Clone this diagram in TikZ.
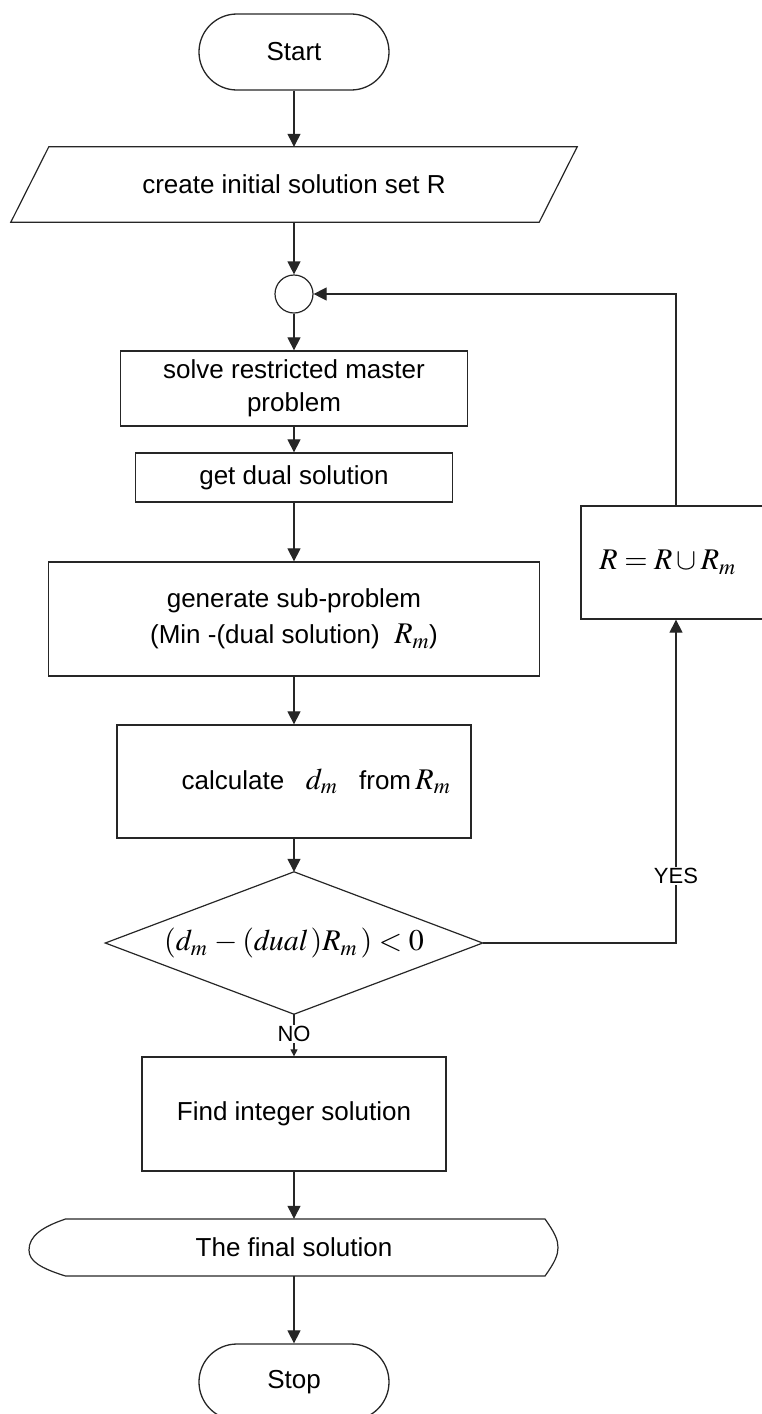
\documentclass[tikz,border=0pt]{standalone}
\usepackage{mathptmx}
\usepackage[no-math]{fontspec}
\setmainfont{Liberation Sans}
\usetikzlibrary{arrows.meta,calc}
\newcommand\fs{\fontsize{26}{33}\selectfont}
\newcommand\fsg{\fontsize{26}{36}\selectfont}
\newcommand\fsl{\fontsize{22}{26}\selectfont}
\newcommand\fm{\fontsize{30}{36}\selectfont}
\tikzset{
  ln/.style={line width=1.2pt, draw=black!85},
  arr/.style={ln, -{Triangle[length=13pt,width=13pt]}},
  sarr/.style={ln, -{Triangle[length=7pt,width=7pt]}},
  box/.style={draw=black!85, line width=1.3pt, inner sep=0pt, align=center, font=\fs},
  ghost/.style={inner sep=0pt, align=center, font=\fs},
  term/.style={box, rounded corners=37.9pt, minimum width=190pt, minimum height=76pt},
  lbl/.style={fill=white, inner sep=1.5pt, font=\fsl},
}
\begin{document}
\begin{tikzpicture}[x=1pt,y=-1pt]
\useasboundingbox (0,0) rectangle (762,1414);
\clip (0,0) rectangle (762,1414);

% nodes
\node[term] (start) at (294,52) {Start};
\node[ghost, minimum width=566pt, minimum height=75pt] (init) at (294,184.5) {create initial solution set R};
\draw[ln] ([xshift=38pt]init.north west) -- (init.north east) -- ([xshift=-38pt]init.south east) -- (init.south west) -- cycle;
\node[draw=black!85, line width=1.2pt, circle, minimum size=38pt, inner sep=0pt] (junc) at (294,294) {};
\node[box, minimum width=347pt, minimum height=75pt] (solve) at (294,388.5) {solve restricted master\\problem};
\node[box, minimum width=317pt, minimum height=49pt] (dual) at (294,477.5) {get dual solution};
\node[box, font=\fsg, minimum width=491pt, minimum height=114pt] (gen) at (294,619) {generate sub-problem\\(Min -(dual solution)\ \ {\fm$R_m$})};
\node[box, minimum width=354pt, minimum height=113pt] (calc) at (294,781.5) {\hspace*{44pt}calculate\ \ \ {\fm$d_m$}\ \ \ from\,{\fm$R_m$}};
\node[ghost, minimum width=377pt, minimum height=142pt] (dec) at (294,943) {\fm$(d_m\,-(\mathit{dual}\,)R_m\,)<0$};
\draw[ln] (dec.north) -- (dec.east) -- (dec.south) -- (dec.west) -- cycle;
\node[box, minimum width=304pt, minimum height=114pt] (find) at (294,1114) {Find integer solution};
\node[ghost, minimum width=529pt, minimum height=57pt] (final) at (294,1247.5) {The final solution};
\draw[ln] (65.5,1219) -- (545,1219)
  .. controls (555,1233) and (558,1240) .. (558,1247.5)
  .. controls (558,1255) and (555,1262) .. (545,1276)
  -- (65.5,1276)
  .. controls (40,1268) and (29,1261) .. (29,1250)
  .. controls (29,1236) and (42,1227) .. (65.5,1219) -- cycle;
\node[term] (stop) at (294,1382) {Stop};
\node[box, font=\fm, minimum width=190pt, minimum height=113pt] (rbox) at (676,562.5) {\hspace*{-17pt}$R=R\cup R_m$};

% connectors
\draw[arr] (start.south) -- (init.north);
\draw[arr] (init.south) -- (junc.north);
\draw[arr] (junc.south) -- (solve.north);
\draw[arr] (solve.south) -- (dual.north);
\draw[arr] (dual.south) -- (gen.north);
\draw[arr] (gen.south) -- (calc.north);
\draw[arr] (calc.south) -- (dec.north);
\draw[sarr] (dec.south) -- (find.north);
\draw[arr] (find.south) -- (final.north);
\draw[arr] (final.south) -- (stop.north);
\draw[arr] (dec.east) -| (rbox.south);
\draw[arr] (rbox.north) |- (junc.east);

% labels
\node[lbl] (yes) at (676,876) {YES};
\node[lbl] (no) at (294,1034) {NO};
\end{tikzpicture}
\end{document}
